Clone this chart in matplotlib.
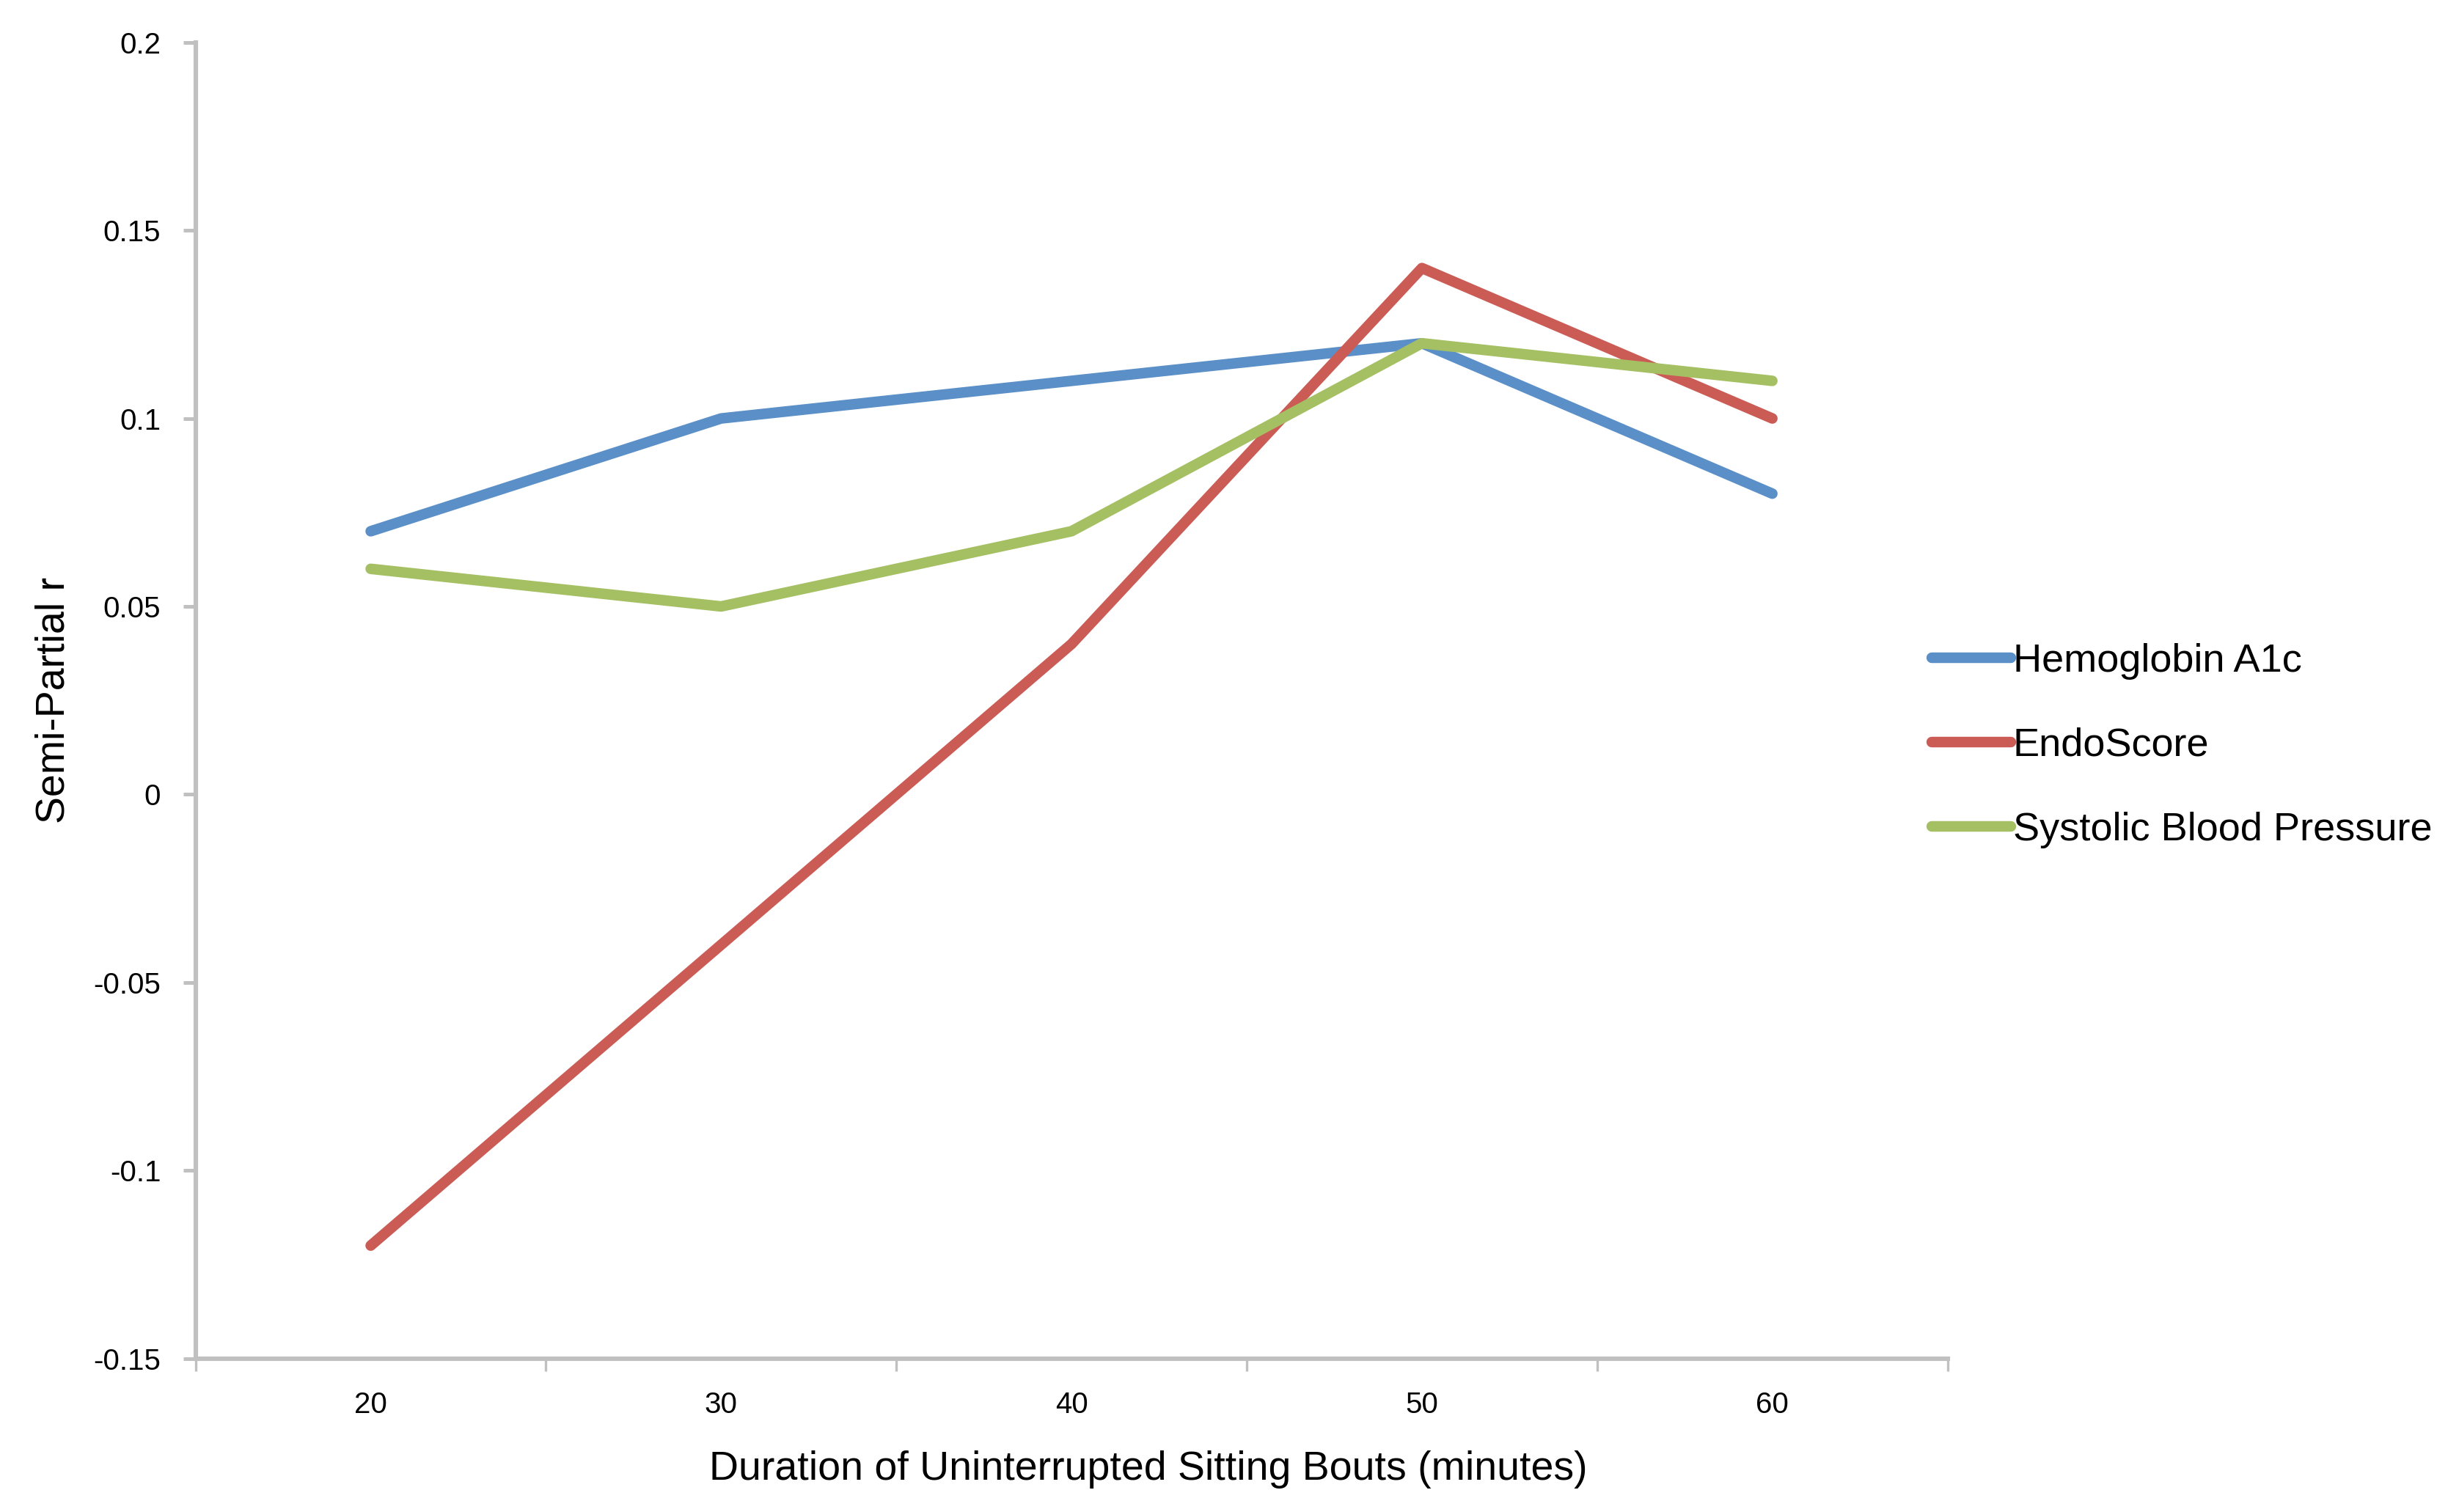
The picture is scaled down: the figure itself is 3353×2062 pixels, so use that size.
import matplotlib
matplotlib.use("Agg")
import matplotlib.pyplot as plt
import numpy as np

# Data
durations = ["20", "30", "40", "50", "60"]
hba1c = [0.07, 0.10, 0.11, 0.12, 0.08]
endoscore = [-0.12, -0.04, 0.04, 0.14, 0.10]
sbp = [0.06, 0.05, 0.07, 0.12, 0.11]
series_names = ["Hemoglobin A1c", "EndoScore", "Systolic Blood Pressure"]
ytick_vals = [-0.15, -0.1, -0.05, 0, 0.05, 0.1, 0.15, 0.2]
ytick_labels = ["-0.15", "-0.1", "-0.05", "0", "0.05", "0.1", "0.15", "0.2"]

colors = ["#5B8FC8", "#CB5B55", "#A5C063"]
axis_grey = "#C0C0C0"

plt.rcParams['font.family'] = ['Liberation Sans', 'DejaVu Sans']

fig = plt.figure(figsize=(16.765, 10.31), dpi=200)
ax = fig.add_axes([0.0795, 0.1016, 0.7125, 0.8703])

x = np.arange(len(durations))
for vals, name, col in zip([hba1c, endoscore, sbp], series_names, colors):
    ax.plot(x, vals, color=col, lw=5.2, label=name, solid_capstyle='round',
            solid_joinstyle='round')

# Axes limits / ticks
ax.set_xlim(-0.5, len(durations) - 0.5)
ax.set_ylim(-0.15, 0.2)
ax.set_yticks(ytick_vals)
ax.set_yticklabels(ytick_labels)
ax.set_xticks(x)
ax.set_xticklabels(durations)
ax.set_xticks(np.arange(-0.5, len(durations), 1), minor=True)
ax.tick_params(axis='x', which='major', length=0, pad=16, labelsize=14.5)
ax.tick_params(axis='x', which='minor', length=6, width=1.2, color=axis_grey)
ax.tick_params(axis='y', which='major', length=6, width=1.8, color=axis_grey,
               pad=11, labelsize=14.5)

for side in ['top', 'right']:
    ax.spines[side].set_visible(False)
for side in ['left', 'bottom']:
    ax.spines[side].set_color(axis_grey)
    ax.spines[side].set_linewidth(2.2)

ax.set_xlabel("Duration of Uninterrupted Sitting Bouts (minutes)", fontsize=20)
ax.xaxis.set_label_coords(0.544, -0.07)
ax.set_ylabel("Semi-Partial r", fontsize=20)
ax.yaxis.set_label_coords(-0.07, 0.5)

ax.legend(loc='center left', bbox_to_anchor=(0.771, 0.507), bbox_transform=fig.transFigure,
          frameon=False, fontsize=19.5, handlelength=2.0, handletextpad=0.05,
          labelspacing=1.2)

fig.savefig("out.png", dpi=200)
